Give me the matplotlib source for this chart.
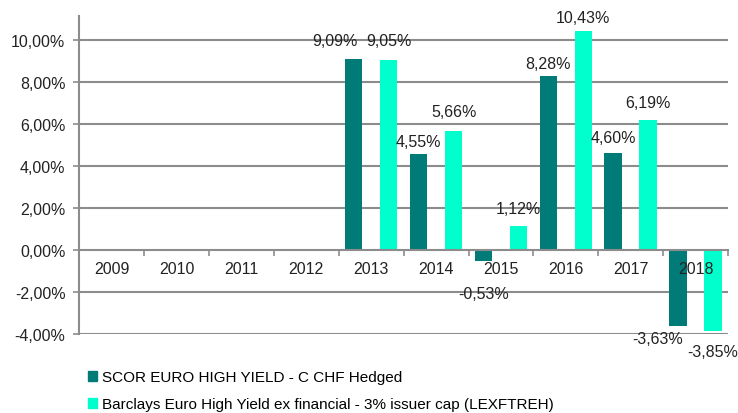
import numpy as np
import matplotlib.pyplot as plt
from matplotlib.patches import Patch

plt.rcParams['font.family'] = ['Liberation Sans', 'DejaVu Sans']

years = ['2009', '2010', '2011', '2012', '2013', '2014', '2015', '2016', '2017', '2018']
scor = [np.nan, np.nan, np.nan, np.nan, 9.09, 4.55, -0.53, 8.28, 4.60, -3.63]
barclays = [np.nan, np.nan, np.nan, np.nan, 9.05, 5.66, 1.12, 10.43, 6.19, -3.85]
names = ['SCOR EURO HIGH YIELD - C CHF Hedged',
         'Barclays Euro High Yield ex financial - 3% issuer cap (LEXFTREH)']

dark = '#007B78'
light = '#00FFCC'
grid = '#8C8C8C'
txt = '#222222'

# label nudges in pixels (dx, dy from bar end), manual like in the original
nudge_scor = {4: (-19, 18), 5: (0, 13), 6: (0, -32), 7: (0, 12), 8: (0, 16), 9: (-20, -12)}
nudge_barc = {4: (0, 19), 5: (0, 19), 6: (0, 18), 7: (0, 13), 8: (0, 17), 9: (0, -21)}

fig = plt.figure(figsize=(7.38, 4.14), dpi=100)
ax = fig.add_axes([79.3/738, 1-335/414, (728-79.3)/738, (335-17)/414])

x = np.arange(len(years))
w = 0.27
off = 0.27
ax.bar(x - off, scor, w, color=dark, zorder=3)
ax.bar(x + off, barclays, w, color=light, zorder=3)

def fmt(v):
    return ('%.2f' % v).replace('.', ',') + '%'

px = 72/100.
for vals, nud, sh in [(scor, nudge_scor, -off), (barclays, nudge_barc, off)]:
    for i, v in enumerate(vals):
        if np.isnan(v):
            continue
        dx, dy = nud.get(i, (0, 15 if v > 0 else -15))
        ax.annotate(fmt(v), (i + sh, v), xytext=(dx*px, dy*px), textcoords='offset points',
                    ha='center', va='center', fontsize=11.5, color=txt, zorder=5)

# year labels drawn on top of the bars
for i, y in enumerate(years):
    ax.annotate(y, (i, 0), xytext=(0, -19*px), textcoords='offset points',
                ha='center', va='center', fontsize=11.5, color=txt, zorder=6)

ax.set_xlim(-0.5, 9.5)
ax.set_ylim(-4, 11.12)
yt = np.arange(-4, 11, 2)
ax.set_yticks(yt)
ax.set_yticklabels([fmt(t) for t in yt], fontsize=11.5, color=txt)
for t in yt:
    if t != 0:
        ax.axhline(t, color=grid, lw=1.5, zorder=1)

for s in ['top', 'right']:
    ax.spines[s].set_visible(False)
ax.spines['left'].set_color(grid)
ax.spines['left'].set_linewidth(1.5)
ax.spines['bottom'].set_position(('data', 0))
ax.spines['bottom'].set_color(grid)
ax.spines['bottom'].set_linewidth(1.5)
ax.spines['bottom'].set_zorder(4)

ax.set_xticks(np.arange(-0.5, 10, 1))
ax.set_xticklabels([])
ax.tick_params(axis='x', which='major', length=4, width=1.2, color=grid, direction='out')
ax.tick_params(axis='y', length=4, width=1.2, color=grid, pad=6)

handles = [Patch(color=dark), Patch(color=light)]
fig.legend(handles, names, loc='upper left', bbox_to_anchor=(82/738, 1-365/414),
           frameon=False, handlelength=0.6, handleheight=0.6,
           handletextpad=0.3, labelspacing=0.85, borderaxespad=0,
           prop={'family': ['Liberation Sans'], 'size': 11})

fig.savefig('out.png', dpi=100)
